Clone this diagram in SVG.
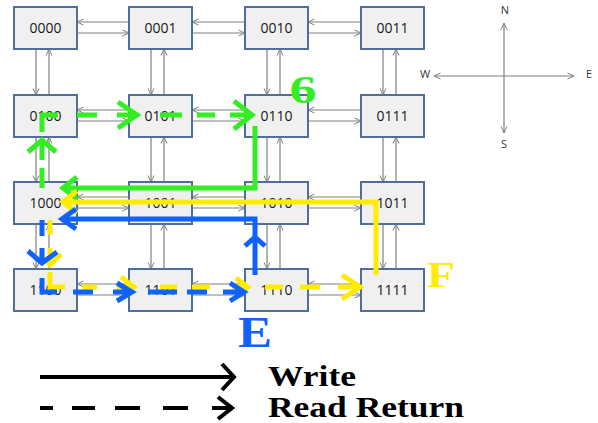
<svg xmlns="http://www.w3.org/2000/svg" width="598" height="423" viewBox="0 0 598 423">
<style>
.box{fill:#f0f0f0;stroke:#4f6f9a;stroke-width:2}
.lbl{font-family:"Open Sans","Liberation Sans",sans-serif;font-size:14px;fill:#1a1a1a;text-anchor:middle}
.gc{stroke:#808080;stroke-width:1.2;fill:none;marker-end:url(#ga)}
.cmp{stroke:#808080;stroke-width:1.2;fill:none;marker-end:url(#ga)}
.cl{font-family:"Open Sans","Liberation Sans",sans-serif;font-size:11px;fill:#333;text-anchor:middle}
.g{stroke:#33ee22;stroke-width:5;fill:none}
.y{stroke:#ffec00;stroke-width:5;fill:none}
.b{stroke:#0f62fe;stroke-width:5;fill:none}
.k{stroke:#000;stroke-width:4;fill:none}
.big{font-family:"Liberation Serif","Times New Roman",serif;font-weight:bold}
</style>
<defs>
<marker id="ga" viewBox="0 0 8 8" refX="7.5" refY="4" markerWidth="8" markerHeight="8" markerUnits="userSpaceOnUse" orient="auto">
<path d="M1,1 L7.5,4 L1,7" fill="none" stroke="#808080" stroke-width="1"/>
</marker>
</defs>
<rect width="598" height="423" fill="#fff"/>

<g id="connectors">
<!-- row 0 -->
<line class="gc" x1="129" y1="22" x2="77" y2="22"/><line class="gc" x1="77" y1="33" x2="129" y2="33"/>
<line class="gc" x1="245" y1="22" x2="192" y2="22"/><line class="gc" x1="192" y1="33" x2="245" y2="33"/>
<line class="gc" x1="361" y1="22" x2="308" y2="22"/><line class="gc" x1="308" y1="33" x2="361" y2="33"/>
<!-- row 1 -->
<line class="gc" x1="129" y1="110" x2="77" y2="110"/><line class="gc" x1="77" y1="121" x2="129" y2="121"/>
<line class="gc" x1="245" y1="110" x2="192" y2="110"/><line class="gc" x1="192" y1="121" x2="245" y2="121"/>
<line class="gc" x1="361" y1="110" x2="308" y2="110"/><line class="gc" x1="308" y1="121" x2="361" y2="121"/>
<!-- row 2 -->
<line class="gc" x1="129" y1="197" x2="77" y2="197"/><line class="gc" x1="77" y1="208" x2="129" y2="208"/>
<line class="gc" x1="245" y1="197" x2="192" y2="197"/><line class="gc" x1="192" y1="208" x2="245" y2="208"/>
<line class="gc" x1="361" y1="197" x2="308" y2="197"/><line class="gc" x1="308" y1="208" x2="361" y2="208"/>
<!-- row 3 -->
<line class="gc" x1="129" y1="284" x2="77" y2="284"/><line class="gc" x1="77" y1="295" x2="129" y2="295"/>
<line class="gc" x1="245" y1="284" x2="192" y2="284"/><line class="gc" x1="192" y1="295" x2="245" y2="295"/>
<line class="gc" x1="361" y1="284" x2="308" y2="284"/><line class="gc" x1="308" y1="295" x2="361" y2="295"/>
<!-- verticals col 0 -->
<line class="gc" x1="36" y1="49" x2="36" y2="95"/><line class="gc" x1="49" y1="95" x2="49" y2="49"/>
<line class="gc" x1="36" y1="137" x2="36" y2="182"/><line class="gc" x1="49" y1="182" x2="49" y2="137"/>
<line class="gc" x1="36" y1="224" x2="36" y2="269"/><line class="gc" x1="49" y1="269" x2="49" y2="224"/>
<!-- col 1 -->
<line class="gc" x1="151" y1="49" x2="151" y2="95"/><line class="gc" x1="164" y1="95" x2="164" y2="49"/>
<line class="gc" x1="151" y1="137" x2="151" y2="182"/><line class="gc" x1="164" y1="182" x2="164" y2="137"/>
<line class="gc" x1="151" y1="224" x2="151" y2="269"/><line class="gc" x1="164" y1="269" x2="164" y2="224"/>
<!-- col 2 -->
<line class="gc" x1="267" y1="49" x2="267" y2="95"/><line class="gc" x1="280" y1="95" x2="280" y2="49"/>
<line class="gc" x1="267" y1="137" x2="267" y2="182"/><line class="gc" x1="280" y1="182" x2="280" y2="137"/>
<line class="gc" x1="267" y1="224" x2="267" y2="269"/><line class="gc" x1="280" y1="269" x2="280" y2="224"/>
<!-- col 3 -->
<line class="gc" x1="383" y1="49" x2="383" y2="95"/><line class="gc" x1="396" y1="95" x2="396" y2="49"/>
<line class="gc" x1="383" y1="137" x2="383" y2="182"/><line class="gc" x1="396" y1="182" x2="396" y2="137"/>
<line class="gc" x1="383" y1="224" x2="383" y2="269"/><line class="gc" x1="396" y1="269" x2="396" y2="224"/>
</g>

<g id="n0000"><rect class="box" x="14" y="7" width="63" height="42"/><text class="lbl" x="45.5" y="33">0000</text></g>
<g id="n0001"><rect class="box" x="129" y="7" width="63" height="42"/><text class="lbl" x="160.5" y="33">0001</text></g>
<g id="n0010"><rect class="box" x="245" y="7" width="63" height="42"/><text class="lbl" x="276.5" y="33">0010</text></g>
<g id="n0011"><rect class="box" x="361" y="7" width="63" height="42"/><text class="lbl" x="392.5" y="33">0011</text></g>
<g id="n0100"><rect class="box" x="14" y="95" width="63" height="42"/><text class="lbl" x="45.5" y="121">0100</text></g>
<g id="n0101"><rect class="box" x="129" y="95" width="63" height="42"/><text class="lbl" x="160.5" y="121">0101</text></g>
<g id="n0110"><rect class="box" x="245" y="95" width="63" height="42"/><text class="lbl" x="276.5" y="121">0110</text></g>
<g id="n0111"><rect class="box" x="361" y="95" width="63" height="42"/><text class="lbl" x="392.5" y="121">0111</text></g>
<g id="n1000"><rect class="box" x="14" y="182" width="63" height="42"/><text class="lbl" x="45.5" y="208">1000</text></g>
<g id="n1001"><rect class="box" x="129" y="182" width="63" height="42"/><text class="lbl" x="160.5" y="208">1001</text></g>
<g id="n1010"><rect class="box" x="245" y="182" width="63" height="42"/><text class="lbl" x="276.5" y="208">1010</text></g>
<g id="n1011"><rect class="box" x="361" y="182" width="63" height="42"/><text class="lbl" x="392.5" y="208">1011</text></g>
<g id="n1100"><rect class="box" x="14" y="269" width="63" height="42"/><text class="lbl" x="45.5" y="295">1100</text></g>
<g id="n1101"><rect class="box" x="129" y="269" width="63" height="42"/><text class="lbl" x="160.5" y="295">1101</text></g>
<g id="n1110"><rect class="box" x="245" y="269" width="63" height="42"/><text class="lbl" x="276.5" y="295">1110</text></g>
<g id="n1111"><rect class="box" x="361" y="269" width="63" height="42"/><text class="lbl" x="392.5" y="295">1111</text></g>

<g id="compass">
<line class="cmp" x1="504" y1="76" x2="504" y2="23"/>
<line class="cmp" x1="504" y1="76" x2="504" y2="133"/>
<line class="cmp" x1="504" y1="76" x2="434" y2="76"/>
<line class="cmp" x1="504" y1="76" x2="574" y2="76"/>
<text class="cl" x="505" y="14">N</text>
<text class="cl" x="504" y="148">S</text>
<text class="cl" x="425" y="78">W</text>
<text class="cl" x="589" y="78">E</text>
</g>

<g id="routes">
<!-- yellow read return (dashed) -->
<g class="y">
<path d="M50,220V235M50,248V264M40,254L50,265L61,254M50,272V287H65"/>
<path d="M82,287H97M117,287H134M121,277L134,287L121,297M160,287H177M192,287H210M232,287H248M236,278L248,287L236,296M265,287H283M300,287H320M338,287H360M342,275L360,287L342,299"/>
</g>
<!-- blue read return (dashed) -->
<g class="b">
<path d="M42,220V236M42,248V262M28,251L42,263L57,252M42,278V292H57"/>
<path d="M73,292H93M113,292H132M117,283L132,292L117,301M148,292H177M187,292H207M223,292H244M230,283L244,292L230,301"/>
</g>
<!-- green read return (dashed) -->
<g class="g">
<path d="M42,168V188M42,142V160M28,152L42,140L56,152M42,113V132"/>
<path d="M40,115H58M77,115H97M117,115H137M118,102L137,115L118,128M160,115H182M197,115H215M230,115H252M234,101L252,115L234,129"/>
</g>
<!-- writes (solid) -->
<path class="g" d="M255,126V188H65"/><path class="g" d="M77,177L63,188L77,199"/>
<path class="y" d="M376,275V202H65"/><path class="y" d="M77,191L63,202L77,213"/>
<path class="b" d="M255,275V219H64"/><path class="b" d="M76,209L62,219L76,229"/>
<path class="b" d="M245,246L255,237L265,246"/>
</g>

<text class="big" x="303" y="103" font-size="41" fill="#33ee22" text-anchor="middle" textLength="27" lengthAdjust="spacingAndGlyphs">6</text>
<text class="big" x="255" y="347" font-size="44" fill="#0f62fe" text-anchor="middle" textLength="34" lengthAdjust="spacingAndGlyphs">E</text>
<text class="big" x="441" y="287" font-size="36" fill="#ffec00" text-anchor="middle" textLength="28" lengthAdjust="spacingAndGlyphs">F</text>

<g id="legend">
<path class="k" d="M40,377H233M222,364L234,377L222,390"/>
<path class="k" d="M40,408H53M72,408H95M115,408H140M163,408H188M212,408H231M218,397L232,408L218,419"/>
<text class="big" x="268" y="386" font-size="30" fill="#000" textLength="88" lengthAdjust="spacingAndGlyphs">Write</text>
<text class="big" x="268" y="417" font-size="30" fill="#000" textLength="196" lengthAdjust="spacingAndGlyphs">Read Return</text>
</g>
</svg>
